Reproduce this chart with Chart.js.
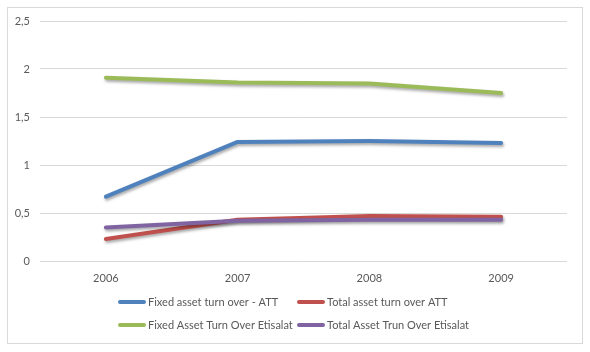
<!DOCTYPE html>
<html>
<head>
<meta charset="utf-8">
<script src="https://cdn.jsdelivr.net/npm/chart.js@4/dist/chart.umd.min.js"></script>
<style>
  html, body { margin: 0; padding: 0; background: #fff; }
  #wrap { position: relative; width: 590px; height: 352px; }
</style>
</head>
<body>
<div id="wrap"><canvas id="myChart" width="590" height="352"></canvas></div>
<script>
var years = ["2006", "2007", "2008", "2009"];
var fixedAtt = [0.67, 1.24, 1.25, 1.23];
var totalAtt = [0.23, 0.43, 0.47, 0.46];
var fixedEtisalat = [1.91, 1.86, 1.85, 1.75];
var totalEtisalat = [0.35, 0.42, 0.43, 0.43];
var seriesNames = ["Fixed asset turn over - ATT", "Total asset turn over ATT", "Fixed Asset Turn Over Etisalat", "Total Asset Trun Over Etisalat"];
var lineColors = ["#4F81BD", "#C0504D", "#9BBB59", "#8064A2"];
var yTicks = [0, 0.5, 1, 1.5, 2, 2.5];

var FONT = "Lato, 'Open Sans', sans-serif";
var TEXT = "#595959";

// border round the whole chart, like the Excel chart frame
var framePlugin = {
  id: "frame",
  beforeDraw: function (chart) {
    var ctx = chart.ctx;
    ctx.save();
    ctx.fillStyle = "#fff";
    ctx.fillRect(0, 0, chart.width, chart.height);
    ctx.strokeStyle = "#d9d9d9";
    ctx.lineWidth = 1;
    ctx.strokeRect(7.5, 7.5, 575, 336);
    ctx.restore();
  }
};

// soft shadow under the lines
var shadowPlugin = {
  id: "lineShadow",
  beforeDatasetsDraw: function (chart) {
    var ctx = chart.ctx;
    ctx.save();
    ctx.shadowColor = "rgba(0,0,0,0.35)";
    ctx.shadowBlur = 3;
    ctx.shadowOffsetX = 1;
    ctx.shadowOffsetY = 2;
  },
  afterDatasetsDraw: function (chart) {
    chart.ctx.restore();
  }
};

// two-column legend under the plot
var legendPlugin = {
  id: "gridLegend",
  afterDraw: function (chart) {
    var ctx = chart.ctx;
    var cols = [118, 297];
    var rows = [302, 325];
    ctx.save();
    ctx.font = "11px " + FONT;
    ctx.textBaseline = "middle";
    ctx.textAlign = "left";
    chart.data.datasets.forEach(function (ds, i) {
      var x = cols[i % 2], y = rows[Math.floor(i / 2)];
      ctx.strokeStyle = ds.borderColor;
      ctx.lineWidth = 4;
      ctx.lineCap = "round";
      ctx.beginPath();
      ctx.moveTo(x + 2, y);
      ctx.lineTo(x + 26, y);
      ctx.stroke();
      ctx.fillStyle = TEXT;
      ctx.fillText(ds.label, x + 30, y);
    });
    ctx.restore();
  }
};

var allSeries = [fixedAtt, totalAtt, fixedEtisalat, totalEtisalat];
var datasets = allSeries.map(function (vals, i) {
  return {
    label: seriesNames[i],
    data: vals,
    borderColor: lineColors[i],
    backgroundColor: lineColors[i],
    borderWidth: 4,
    borderCapStyle: "round",
    borderJoinStyle: "round",
    pointRadius: 0,
    tension: 0,
    order: 3 - i
  };
});

new Chart("myChart", {
  type: "line",
  data: { labels: years, datasets: datasets },
  plugins: [framePlugin, shadowPlugin, legendPlugin],
  options: {
    responsive: false,
    animation: false,
    layout: { padding: { left: 0, right: 23, top: 21, bottom: 60 } },
    plugins: {
      legend: { display: false },
      tooltip: { enabled: false }
    },
    scales: {
      x: {
        offset: true,
        grid: { display: false },
        border: { display: false },
        ticks: { color: TEXT, font: { family: FONT, size: 11 }, padding: 3 },
        afterFit: function (scale) { scale.height = 31; }
      },
      y: {
        min: 0,
        max: 2.5,
        afterBuildTicks: function (scale) {
          scale.ticks = yTicks.map(function (v) { return { value: v }; });
        },
        grid: { color: "#d9d9d9", lineWidth: 1, drawTicks: false },
        border: { display: false },
        ticks: {
          color: TEXT,
          font: { family: FONT, size: 11 },
          padding: 10,
          callback: function (v) { return String(v).replace(".", ","); }
        },
        afterFit: function (scale) { scale.width = 40; }
      }
    }
  }
});
</script>
</body>
</html>
